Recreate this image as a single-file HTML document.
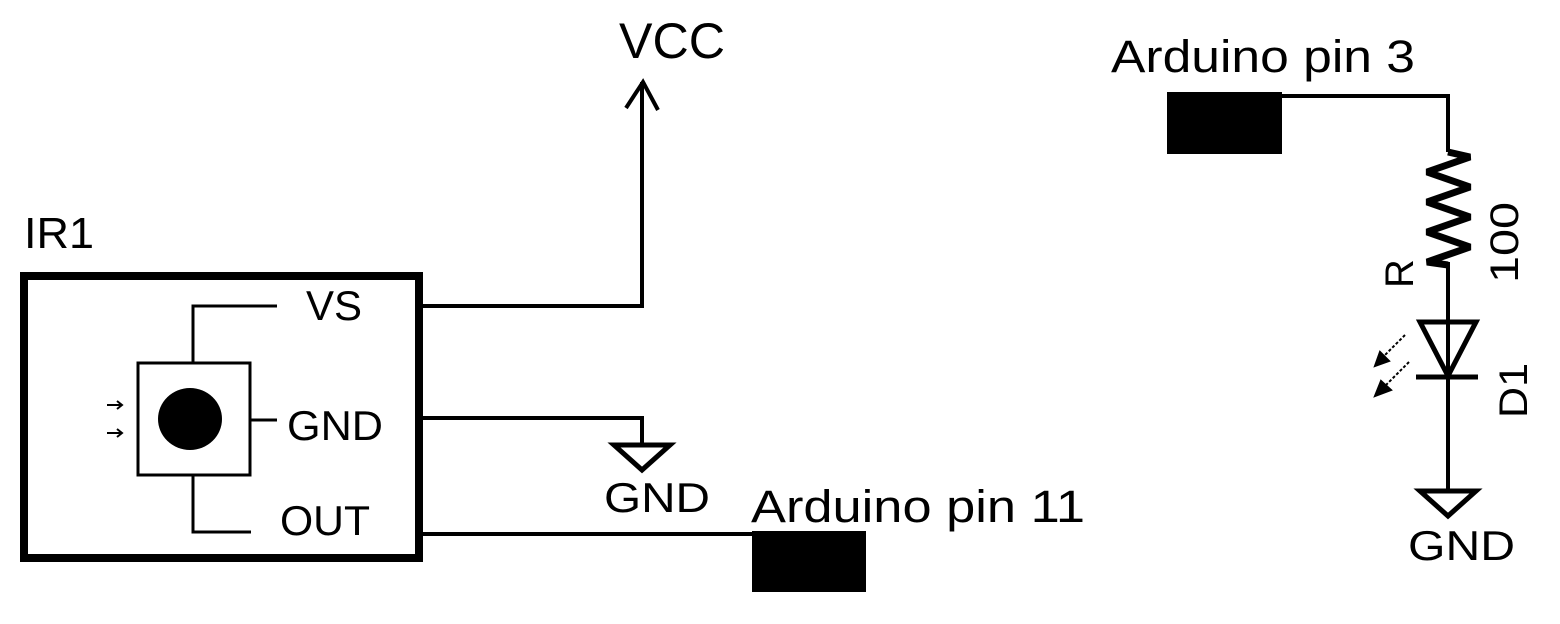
<!DOCTYPE html>
<html><head><meta charset="utf-8"><style>
html,body{margin:0;padding:0;background:#fff;}
svg{display:block;}
text{font-family:"Liberation Sans",Arial,sans-serif;fill:#000;}
</style></head><body>
<svg width="1560" height="624" viewBox="0 0 1560 624" xmlns="http://www.w3.org/2000/svg">
<!-- IR1 -->
<text x="24" y="248" font-size="44" textLength="70" lengthAdjust="spacingAndGlyphs">IR1</text>
<rect x="24" y="276" width="395" height="282" fill="none" stroke="#000" stroke-width="8"/>
<rect x="138" y="363" width="112" height="112" fill="none" stroke="#000" stroke-width="3"/>
<ellipse cx="190" cy="419" rx="32" ry="31" fill="#000"/>
<polyline points="193,363 193,306 277,306" fill="none" stroke="#000" stroke-width="3"/>
<line x1="250" y1="420" x2="277" y2="420" stroke="#000" stroke-width="3"/>
<polyline points="193,475 193,532 251,532" fill="none" stroke="#000" stroke-width="3"/>
<text x="306" y="320" font-size="42" textLength="56" lengthAdjust="spacingAndGlyphs">VS</text>
<text x="287" y="440" font-size="42" textLength="96" lengthAdjust="spacingAndGlyphs">GND</text>
<text x="280" y="535" font-size="42" textLength="90" lengthAdjust="spacingAndGlyphs">OUT</text>
<!-- small arrows -->
<g stroke="#000" stroke-width="2" fill="none">
<line x1="107" y1="405" x2="122" y2="405"/><polyline points="117,401 122,405 117,409"/>
<line x1="107" y1="433" x2="122" y2="433"/><polyline points="117,429 122,433 117,437"/>
</g>
<!-- wires -->
<g stroke="#000" fill="none" stroke-width="4" stroke-linejoin="miter">
<polyline points="423,306 642,306 642,82"/>
<polyline points="626,108 643,82 658,110"/>
<polyline points="423,418 642,418 642,445"/>
<polygon points="614,445 670,445 642,470" stroke-width="5"/>
<line x1="423" y1="534" x2="754" y2="534"/>
<polyline points="1282,96 1448,96 1448,152"/>
<polyline points="1448,152 1470,157 1427,172 1470,187 1427,202 1470,217 1427,232 1470,247 1427,262 1448,265" stroke-width="7" stroke-linejoin="bevel"/>
<line x1="1448" y1="262" x2="1448" y2="490"/>
<polygon points="1420,322 1476,322 1448,376" stroke-width="5"/>
<line x1="1416" y1="377" x2="1478" y2="377" stroke-width="5"/>
<polygon points="1420,491 1476,491 1448,516" stroke-width="5"/>
</g>
<!-- LED arrows -->
<g stroke="#000" stroke-width="2" fill="#000">
<line x1="1405" y1="335" x2="1382" y2="358" stroke-dasharray="3,2"/>
<polygon points="1375,366 1380,352 1389,361"/>
<line x1="1409" y1="362" x2="1385" y2="386" stroke-dasharray="3,2"/>
<polygon points="1375,396 1381,381 1391,390"/>
</g>
<rect x="752" y="531" width="114" height="61" fill="#000"/>
<rect x="1167" y="92" width="115" height="62" fill="#000"/>
<text x="619" y="58" font-size="50" textLength="106" lengthAdjust="spacingAndGlyphs">VCC</text>
<text x="604" y="512" font-size="42" textLength="106" lengthAdjust="spacingAndGlyphs">GND</text>
<text x="751" y="522" font-size="45" textLength="334" lengthAdjust="spacingAndGlyphs">Arduino pin 11</text>
<text x="1111" y="72" font-size="45" textLength="304" lengthAdjust="spacingAndGlyphs">Arduino pin 3</text>
<text x="1408" y="560" font-size="42" textLength="107" lengthAdjust="spacingAndGlyphs">GND</text>
<text transform="translate(1413,288) rotate(-90)" font-size="40">R</text>
<text transform="translate(1518,283) rotate(-90)" font-size="40" textLength="81" lengthAdjust="spacingAndGlyphs">100</text>
<text transform="translate(1527,418) rotate(-90)" font-size="40" textLength="55" lengthAdjust="spacingAndGlyphs">D1</text>
</svg>
</body></html>
